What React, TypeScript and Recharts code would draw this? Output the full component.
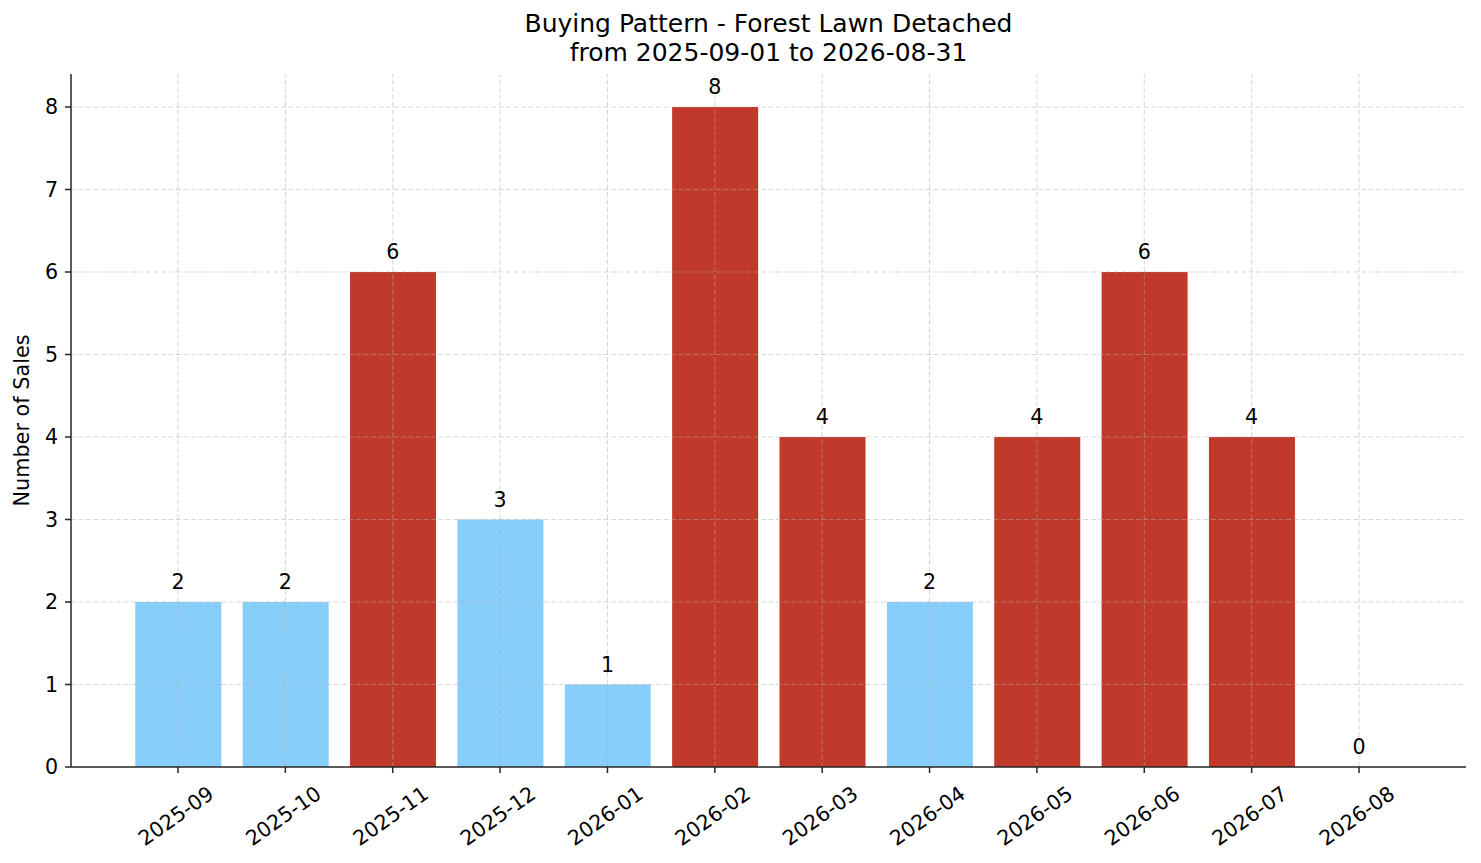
import React from 'react';
import { ComposedChart, Bar, Line, XAxis, YAxis, Cell, LabelList, ReferenceLine } from 'recharts';

// Sales count per month
const months = [
  '2025-09', '2025-10', '2025-11', '2025-12', '2026-01', '2026-02',
  '2026-03', '2026-04', '2026-05', '2026-06', '2026-07', '2026-08',
];
const sales = [2, 2, 6, 3, 1, 8, 4, 2, 4, 6, 4, 0];
const yTicks = [0, 1, 2, 3, 4, 5, 6, 7, 8];

const data = months.map((month, i) => ({ month, sales: sales[i] }));

// months above the average get the "hot" colour
const average = sales.reduce((a, b) => a + b, 0) / sales.length;

const FONT = '"DejaVu Sans", sans-serif';
const HOT = '#C0392B';
const COOL = '#87CEFA';
const AXIS = '#262626';
const GRID = { stroke: '#b0b0b0', strokeOpacity: 0.5, strokeDasharray: '5 2.5', strokeWidth: 1 };

const XTick = (props: any) => {
  const { x, y, payload } = props;
  return (
    <g transform={`translate(${x - 2},${y + 43})`}>
      <text
        transform="rotate(-35)"
        textAnchor="middle"
        dominantBaseline="central"
        fontFamily={FONT}
        fontSize={20.6}
        fill="#000"
      >
        {payload.value}
      </text>
    </g>
  );
};

const YTitle = () => (
  <text
    x={22}
    y={420.5}
    transform="rotate(-90, 22, 420.5)"
    textAnchor="middle"
    dominantBaseline="central"
    fontFamily={FONT}
    fontSize={20.8}
    fill="#000"
  >
    Number of Sales
  </text>
);

const App: React.FC = () => {
  return (
    <div style={{ position: 'absolute', left: 0, top: 0, width: 1481, height: 863, background: '#fff' }}>
      <div
        style={{
          position: 'absolute',
          left: 0,
          width: 1537,
          top: 9,
          textAlign: 'center',
          fontFamily: FONT,
          fontSize: 25,
          lineHeight: '29px',
          color: '#000',
          whiteSpace: 'nowrap',
        }}
      >
        <div>Buying Pattern - Forest Lawn Detached</div>
        <div>from 2025-09-01 to 2026-08-31</div>
      </div>
      <ComposedChart
        width={1481}
        height={863}
        data={data}
        margin={{ top: 74, right: 15, left: 0, bottom: 0 }}
        barSize={86}
      >
        <XAxis
          dataKey="month"
          height={96}
          interval={0}
          padding={{ left: 53.3, right: 53.3 }}
          tick={<XTick />}
          tickSize={6}
          tickMargin={0}
          tickLine={{ stroke: AXIS, strokeWidth: 1.5 }}
          axisLine={{ stroke: AXIS, strokeWidth: 1.5 }}
        />
        <YAxis
          width={71}
          domain={[0, 8.4]}
          ticks={yTicks}
          allowDataOverflow
          tickSize={6}
          tickMargin={7}
          tickLine={{ stroke: AXIS, strokeWidth: 1.5 }}
          axisLine={{ stroke: AXIS, strokeWidth: 1.5 }}
          tick={{ fill: '#000', fontFamily: FONT, fontSize: 20.6 }}
          label={<YTitle />}
        />
        <Bar dataKey="sales" isAnimationActive={false}>
          {data.map((d) => (
            <Cell key={d.month} fill={d.sales > average ? HOT : COOL} />
          ))}
        </Bar>
        {yTicks.slice(1).map((t) => (
          <ReferenceLine key={`h${t}`} y={t} {...GRID} />
        ))}
        {months.map((m) => (
          <ReferenceLine key={`v${m}`} x={m} {...GRID} />
        ))}
        {/* invisible line carrying the value labels, so the zero month gets one too */}
        <Line
          dataKey="sales"
          stroke="none"
          dot={false}
          activeDot={false}
          isAnimationActive={false}
          legendType="none"
        >
          <LabelList
            dataKey="sales"
            position="top"
            offset={13}
            fill="#000"
            fontFamily={FONT}
            fontSize={20.6}
          />
        </Line>
      </ComposedChart>
    </div>
  );
};

export default App;
